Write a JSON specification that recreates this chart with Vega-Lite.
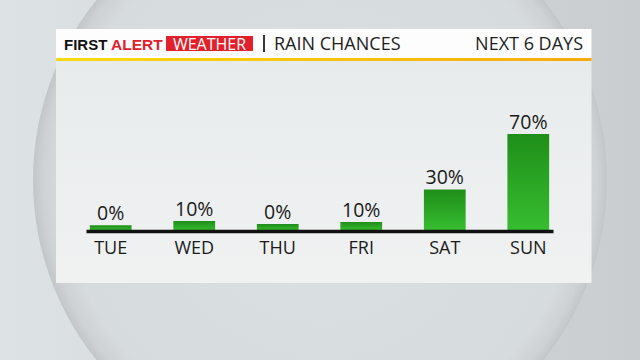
{
  "$schema": "https://vega.github.io/schema/vega-lite/v6.json",
  "width": 640,
  "height": 360,
  "autosize": {"type": "none"},
  "padding": 0,
  "background": "#d4d9db",
  "config": {
    "view": {
      "stroke": null,
      "fill": {"gradient": "linear", "x1": 0, "y1": 0, "x2": 1, "y2": 0,
        "stops": [{"offset": 0, "color": "#dde3e5"}, {"offset": 1, "color": "#c9cdcf"}]}
    }
  },
  "datasets": {
    "days": [
      {"day": "TUE", "chance": 0, "bar": 4.1},
      {"day": "WED", "chance": 0.1, "bar": 7.2},
      {"day": "THU", "chance": 0, "bar": 5.0},
      {"day": "FRI", "chance": 0.1, "bar": 6.5},
      {"day": "SAT", "chance": 0.3, "bar": 30},
      {"day": "SUN", "chance": 0.7, "bar": 70}
    ],
    "deco": [{"piece": "backdrop"}],
    "header": [
      {"part": "FIRST"},
      {"part": "ALERT"},
      {"part": "WEATHER"},
      {"part": "RAIN CHANCES"},
      {"part": "NEXT 6 DAYS"}
    ]
  },
  "layer": [
    {
      "data": {"name": "deco"},
      "mark": {"type": "point", "shape": "circle", "size": 329476, "filled": true, "opacity": 1, "strokeWidth": 0,
        "fill": {"gradient": "radial", "x1": 0.5, "y1": 0.5, "r1": 0, "x2": 0.5, "y2": 0.5, "r2": 0.5,
          "stops": [{"offset": 0, "color": "#dbe0e2"}, {"offset": 0.9, "color": "#d6dbdd"}, {"offset": 0.965, "color": "#cfd2d4"}, {"offset": 1, "color": "#c3c6c8"}]}},
      "encoding": {}
    },
    {
      "data": {"name": "deco"},
      "mark": {"type": "point", "shape": "M-0.986,-0.564H1.014V0.3847H-0.986Z", "size": 286760, "filled": true, "opacity": 1, "strokeWidth": 0,
        "fill": {"gradient": "linear", "x1": 0, "y1": 0, "x2": 0, "y2": 1,
          "stops": [{"offset": 0, "color": "#fdfdfd"}, {"offset": 0.114, "color": "#fdfdfd"}, {"offset": 0.115, "color": "#e8ebec"}, {"offset": 1, "color": "#f0f2f2"}]}},
      "encoding": {}
    },
    {
      "data": {"name": "deco"},
      "mark": {"type": "point", "shape": "M-0.986,-0.4557H1.014V-0.4444H-0.986Z", "size": 286760, "filled": true, "opacity": 1, "strokeWidth": 0,
        "fill": {"gradient": "linear", "x1": 0, "y1": 0, "x2": 1, "y2": 0,
          "stops": [{"offset": 0, "color": "#f9db12"}, {"offset": 1, "color": "#f6aa10"}]}},
      "encoding": {}
    },
    {
      "data": {"name": "deco"},
      "mark": {"type": "point", "shape": "M-1.54,-1.44H-0.67V-1.29H-1.54Z", "size": 40000, "filled": true, "opacity": 1, "strokeWidth": 0, "fill": "#e2202b"},
      "encoding": {}
    },
    {
      "data": {"name": "deco"},
      "mark": {"type": "point", "shape": "M-0.56,-1.45V-1.28", "size": 40000, "filled": false, "opacity": 1, "stroke": "#222222", "strokeWidth": 1.8},
      "encoding": {}
    },
    {
      "data": {"name": "header"},
      "transform": [{"filter": "datum.part === 'FIRST'"}],
      "mark": {"type": "text", "align": "left", "baseline": "alphabetic", "dx": -256, "dy": -130, "font": "Liberation Sans, sans-serif", "fontWeight": "bold", "fontSize": 15, "color": "#111111"},
      "encoding": {"text": {"field": "part"}}
    },
    {
      "data": {"name": "header"},
      "transform": [{"filter": "datum.part === 'ALERT'"}],
      "mark": {"type": "text", "align": "left", "baseline": "alphabetic", "dx": -209, "dy": -130, "font": "Liberation Sans, sans-serif", "fontWeight": "bold", "fontSize": 15.5, "color": "#e2202b"},
      "encoding": {"text": {"field": "part"}}
    },
    {
      "data": {"name": "header"},
      "transform": [{"filter": "datum.part === 'WEATHER'"}],
      "mark": {"type": "text", "align": "center", "baseline": "alphabetic", "dx": -110.5, "dy": -130, "font": "Open Sans", "fontWeight": 500, "fontSize": 16, "color": "#ffffff"},
      "encoding": {"text": {"field": "part"}}
    },
    {
      "data": {"name": "header"},
      "transform": [{"filter": "datum.part === 'RAIN CHANCES'"}],
      "mark": {"type": "text", "align": "left", "baseline": "alphabetic", "dx": -46, "dy": -130, "font": "Open Sans", "fontWeight": 500, "fontSize": 18, "color": "#1d1d1d"},
      "encoding": {"text": {"field": "part"}}
    },
    {
      "data": {"name": "header"},
      "transform": [{"filter": "datum.part === 'NEXT 6 DAYS'"}],
      "mark": {"type": "text", "align": "right", "baseline": "alphabetic", "dx": 263, "dy": -130, "font": "Open Sans", "fontWeight": 500, "fontSize": 18, "color": "#1d1d1d"},
      "encoding": {"text": {"field": "part"}}
    },
    {
      "data": {"name": "days"},
      "mark": {"type": "bar",
        "fill": {"gradient": "linear", "x1": 0, "y1": 0, "x2": 0, "y2": 1,
          "stops": [{"offset": 0, "color": "#1f8e19"}, {"offset": 1, "color": "#37be31"}]}},
      "encoding": {
        "x": {"field": "day", "type": "nominal", "sort": null,
          "scale": {"range": [86, 553], "paddingInner": 0.5, "paddingOuter": 0.046},
          "axis": {"title": null, "orient": "bottom", "offset": -129, "domainWidth": 3.5, "domainColor": "#111111", "domainCap": "butt",
            "ticks": false, "tickSize": 0, "grid": false, "labelAngle": 0, "labelPadding": 8,
            "labelFont": "Open Sans", "labelFontSize": 18, "labelFontWeight": 500, "labelColor": "#1a1a1a", "zindex": 1}},
        "y": {"field": "bar", "type": "quantitative", "scale": {"domain": [-93.14, 166.79], "nice": false}, "axis": null}
      }
    },
    {
      "data": {"name": "days"},
      "mark": {"type": "text", "baseline": "alphabetic", "dy": -5, "font": "Open Sans", "fontWeight": 500, "fontSize": 19.5, "color": "#1a1a1a"},
      "encoding": {
        "x": {"field": "day", "type": "nominal", "sort": null},
        "y": {"field": "bar", "type": "quantitative"},
        "text": {"field": "chance", "type": "quantitative", "format": ".0%"}
      }
    }
  ]
}
